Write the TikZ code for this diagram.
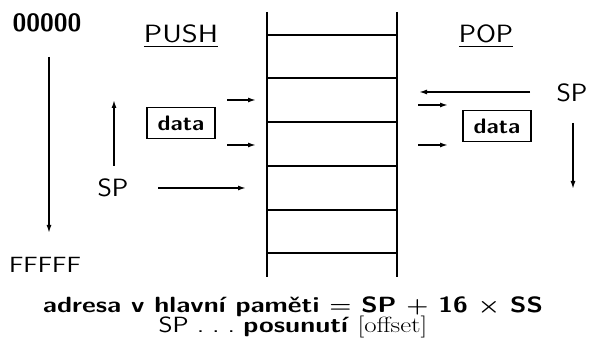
\documentclass[tikz,border=0pt]{standalone}
\usepackage{amsmath,amssymb}
\usepackage{graphicx}
\usepackage{tikz}
\usetikzlibrary{positioning,calc,arrows.meta}

\newcommand{\widetxt}[1]{\scalebox{1.22}[1]{#1}}
\tikzset{
  big/.style={font=\sffamily\fontsize{25}{28}\selectfont, inner sep=0pt, anchor=base},
  bigb/.style={font=\sffamily\bfseries\fontsize{25}{28}\selectfont, inner sep=0pt, anchor=base},
  databox/.style={draw, line width=1.4pt, minimum width=68pt, minimum height=31pt, inner sep=0pt,
    font=\sffamily\bfseries\fontsize{21}{24}\selectfont},
  ptr/.style={line width=1.5pt, -{Latex[length=8pt,width=5pt]}},
  bottom/.style={font=\sffamily\fontsize{22}{24}\selectfont, inner sep=0pt, anchor=base}
}

\begin{document}
\begin{tikzpicture}[x=1pt,y=1pt]
        \useasboundingbox (0,0) rectangle (590,348);
        % Stack
        \draw[line width=1.8pt] (267,336) -- (267,71);
        \draw[line width=1.8pt] (397,336) -- (397,71);
        \foreach \y in {313,270,226,182,138,95} {
            \draw[line width=1.8pt] (267,\y) -- (397,\y);
        }
        % Address range
        \node[bigb] (top) at (47,316) {00000};
        \node[big, font=\sffamily\fontsize{22}{24}\selectfont] (bot) at (45,75) {\widetxt{FFFFF}};
        \coordinate (dirA) at (49,291);
        \coordinate (dirB) at (49,115);
        \draw[ptr] (dirA) -- (dirB);
        % PUSH side
        \node[big] (push) at (181,305) {\widetxt{\underline{PUSH}}};
        \node[databox] (pushdata) at (181,225) {\scalebox{1.1}[1]{data}};
        \node[big] (spl) at (113,151) {\scalebox{1.1}[1]{SP}};
        \coordinate (upA) at (114,182);
        \coordinate (upB) at (114,248);
        \draw[ptr] (upA) -- (upB);
        \coordinate (splA) at (158,160);
        \coordinate (splB) at (246,160);
        \draw[ptr] (splA) -- (splB);
        \foreach \y/\n in {248/pa, 203/pb} {
            \coordinate (\n1) at (227,\y);
            \coordinate (\n2) at (256,\y);
            \draw[ptr] (\n1) -- (\n2);
        }
        % POP side
        \node[big] (pop) at (486,305) {\scalebox{1.15}[1]{\underline{POP}}};
        \node[databox] (popdata) at (497,222) {\scalebox{1.1}[1]{data}};
        \node[big] (spr) at (572,246) {\scalebox{1.1}[1]{SP}};
        \coordinate (sprA) at (530,256);
        \coordinate (sprB) at (419,256);
        \draw[ptr] (sprA) -- (sprB);
        \coordinate (dnA) at (573,225);
        \coordinate (dnB) at (573,159);
        \draw[ptr] (dnA) -- (dnB);
        \foreach \y/\n in {243/qa, 203/qb} {
            \coordinate (\n1) at (418,\y);
            \coordinate (\n2) at (448,\y);
            \draw[ptr] (\n1) -- (\n2);
        }
        % Address formula
        \node[bottom] (addr) at (293,35) {\widetxt{\bfseries adresa v hlavní paměti $\boldsymbol{=}$ SP $\boldsymbol{+}$ 16 $\boldsymbol{\times}$ SS}};
        \node[bottom] (offs) at (293,15) {\widetxt{SP .\ .\ .\ \textbf{posunutí} \textrm{[offset]}}};
    \end{tikzpicture}
\end{document}
